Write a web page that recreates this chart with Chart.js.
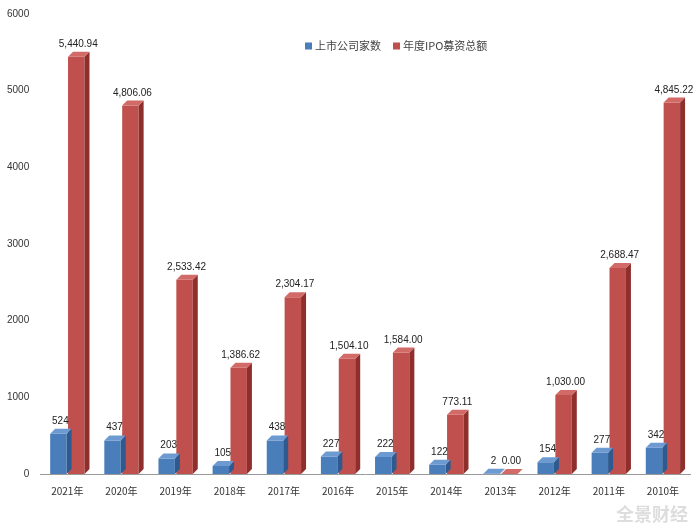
<!DOCTYPE html>
<html><head><meta charset="utf-8">
<script src="https://cdn.jsdelivr.net/npm/chart.js@4/dist/chart.umd.min.js"></script>
<style>body{margin:0;background:#fff}#w{position:relative;width:700px;height:530px}
#wm{position:absolute;right:12px;bottom:4px;font:bold 18px "Noto Sans CJK SC";color:#ddd}</style>
</head><body><div id="w"><canvas id="c" width="700" height="530"></canvas><div id="wm">全景财经</div></div>
<script>
const categories=['2021年','2020年','2019年','2018年','2017年','2016年','2015年','2014年','2013年','2012年','2011年','2010年'];
const companies=[524,437,203,105,438,227,222,122,2,154,277,342];
const ipoAmount=[5440.94,4806.06,2533.42,1386.62,2304.17,1504.10,1584.00,773.11,0.00,1030.00,2688.47,4845.22];
const seriesNames=['上市公司家数','年度IPO募资总额'];
const D=5;
const threeD={id:'threeD',afterDatasetsDraw(ch){const x=ch.ctx;
 ch.data.datasets.forEach((ds,i)=>{const m=ch.getDatasetMeta(i);const side=i?'#8e2f2c':'#2f5a8f',top=i?'#d26a67':'#6d9ad0';
  m.data.forEach((b,j)=>{const l=b.x-b.width/2,r=b.x+b.width/2,t=b.y,bt=b.base;
   x.fillStyle=side;x.beginPath();x.moveTo(r,t);x.lineTo(r+D,t-D);x.lineTo(r+D,bt-D);x.lineTo(r,bt);x.fill();
   x.fillStyle=top;x.beginPath();x.moveTo(l,t);x.lineTo(l+D,t-D);x.lineTo(r+D,t-D);x.lineTo(r,t);x.fill();
   x.fillStyle='#222';x.font='10px "Liberation Sans"';x.textAlign='center';
   const v=ds.data[j];x.fillText(i?v.toLocaleString('en-US',{minimumFractionDigits:2,maximumFractionDigits:2}):String(v),b.x+2,t-D-5);
  });});
 // legend
 x.font='11px "Noto Sans CJK SC"';x.textAlign='left';x.textBaseline='middle';
 let lx=305;const ly=46;
 seriesNames.forEach((n,i)=>{x.fillStyle=ch.data.datasets[i].backgroundColor;x.fillRect(lx,ly-3.5,7,7);
  x.fillStyle='#444';x.fillText(n,lx+10,ly);lx+=10+x.measureText(n).width+12;});
 x.textBaseline='alphabetic';}};
new Chart(document.getElementById('c'),{type:'bar',
data:{labels:categories,datasets:[
 {label:seriesNames[0],data:companies,backgroundColor:'#4a7ebb'},
 {label:seriesNames[1],data:ipoAmount,backgroundColor:'#c0504d'}]},
options:{responsive:false,animation:false,
 layout:{padding:{left:4,right:10,top:14,bottom:30}},
 datasets:{bar:{categoryPercentage:0.66,barPercentage:0.92}},
 plugins:{legend:{display:false},tooltip:{enabled:false}},
 scales:{x:{grid:{display:false},border:{color:'#999'},ticks:{font:{size:10,family:'Noto Sans CJK SC'},color:'#333'}},
  y:{min:0,max:6000,ticks:{stepSize:1000,font:{size:10},color:'#333',callback:v=>String(v)},grid:{display:false},border:{display:false}}}},
plugins:[threeD]
});
</script></body></html>
